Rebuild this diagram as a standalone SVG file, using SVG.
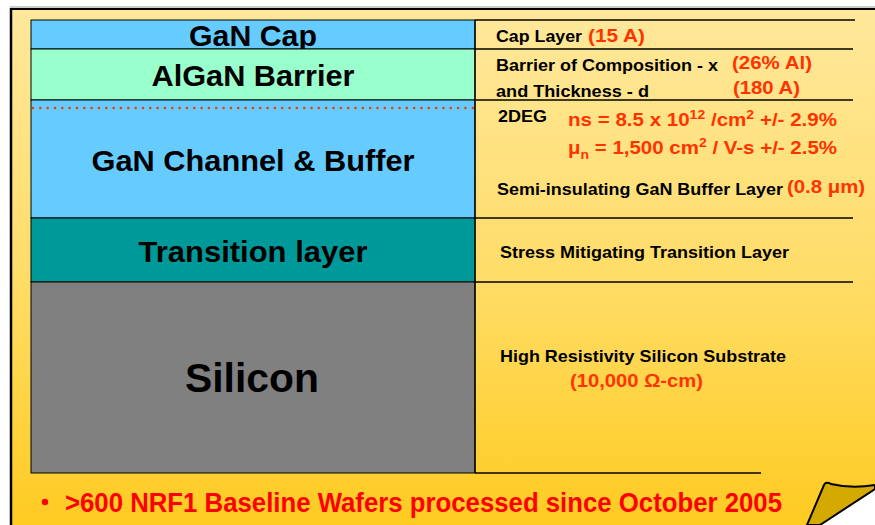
<svg xmlns="http://www.w3.org/2000/svg" width="875" height="525" viewBox="0 0 875 525">
<defs>
<linearGradient id="bg" x1="0" y1="0" x2="0" y2="1">
<stop offset="0" stop-color="#FFE89C"/>
<stop offset="0.5" stop-color="#FFDD6A"/>
<stop offset="1" stop-color="#FFCB20"/>
</linearGradient>
<style>
text{font-family:"Liberation Sans",Arial,sans-serif;font-weight:bold;}
.big{font-size:30px;fill:#000;text-anchor:middle;}
.lbl{font-size:17px;fill:#000;}
.red{font-size:19px;fill:#FF3300;}
.layer{stroke:#000;stroke-width:1;}
.rule{stroke:#000;stroke-width:1.3;fill:none;}
</style>
</defs>
<rect x="0" y="0" width="875" height="525" fill="#FFFFFF"/>
<rect x="11" y="9" width="870" height="520" fill="url(#bg)"/>
<line x1="10" y1="7" x2="875" y2="7" stroke="#999" stroke-width="1"/>
<line x1="11" y1="9" x2="875" y2="9" stroke="#000" stroke-width="2.2"/>
<line x1="11" y1="8" x2="11" y2="525" stroke="#000" stroke-width="2.5"/>

<g id="layer-gan-cap">
<rect class="layer" x="31" y="20" width="444" height="29" fill="#66CCFF"/>
<text class="big" x="253" y="46" textLength="128" lengthAdjust="spacingAndGlyphs">GaN Cap</text>
</g>
<g id="layer-algan">
<rect class="layer" x="31" y="49" width="444" height="51" fill="#99FFCC"/>
<text class="big" x="253" y="86" textLength="203" lengthAdjust="spacingAndGlyphs">AlGaN Barrier</text>
</g>
<g id="layer-gan-channel">
<rect class="layer" x="31" y="100" width="444" height="118" fill="#66CCFF"/>
<text class="big" x="253" y="171" textLength="323" lengthAdjust="spacingAndGlyphs">GaN Channel &amp; Buffer</text>
</g>
<g id="layer-transition">
<rect class="layer" x="31" y="218" width="444" height="64" fill="#009999"/>
<text class="big" x="253" y="262" textLength="229" lengthAdjust="spacingAndGlyphs">Transition layer</text>
</g>
<g id="layer-silicon">
<rect class="layer" x="31" y="282" width="444" height="191" fill="#808080"/>
<text class="big" x="252" y="392" style="font-size:40px" textLength="134" lengthAdjust="spacingAndGlyphs">Silicon</text>
</g>

<g id="connectors">
<line x1="33" y1="108" x2="473" y2="108" stroke="#FF3300" stroke-width="2.6" stroke-linecap="round" stroke-dasharray="0 7.33"/>
<line class="rule" x1="475" y1="20" x2="855" y2="20"/>
<line class="rule" x1="475" y1="49" x2="853" y2="49"/>
<line class="rule" x1="476" y1="100" x2="853" y2="100"/>
<line class="rule" x1="475" y1="218" x2="853" y2="218"/>
<line class="rule" x1="475" y1="282" x2="853" y2="282"/>
<line class="rule" x1="475" y1="473" x2="761" y2="473"/>
<line class="rule" x1="475" y1="20" x2="475" y2="473"/>
</g>

<g id="desc-cap">
<text class="lbl" x="496" y="42" textLength="86" lengthAdjust="spacingAndGlyphs">Cap Layer</text>
<text class="red" x="588" y="42" textLength="57" lengthAdjust="spacingAndGlyphs">(15 A)</text>
</g>
<g id="desc-barrier">
<text class="lbl" x="496" y="71" textLength="222" lengthAdjust="spacingAndGlyphs">Barrier of Composition - x</text>
<text class="lbl" x="496" y="97" textLength="153" lengthAdjust="spacingAndGlyphs">and Thickness - d</text>
<text class="red" x="732" y="69" textLength="80" lengthAdjust="spacingAndGlyphs">(26% Al)</text>
<text class="red" x="733" y="94" textLength="67" lengthAdjust="spacingAndGlyphs">(180 A)</text>
</g>
<g id="desc-channel">
<text class="lbl" x="498" y="122" textLength="49" lengthAdjust="spacingAndGlyphs">2DEG</text>
<text class="red" x="568" y="126" textLength="269" lengthAdjust="spacingAndGlyphs">ns = 8.5 x 10<tspan font-size="13" dy="-7">12</tspan><tspan dy="7"> /cm</tspan><tspan font-size="13" dy="-7">2</tspan><tspan dy="7"> +/- 2.9%</tspan></text>
<text class="red" x="568" y="154" textLength="269" lengthAdjust="spacingAndGlyphs">μ<tspan font-size="13" dy="5">n</tspan><tspan dy="-5"> = 1,500 cm</tspan><tspan font-size="13" dy="-7">2</tspan><tspan dy="7"> / V-s +/- 2.5%</tspan></text>
<text class="lbl" x="497" y="195" textLength="286" lengthAdjust="spacingAndGlyphs">Semi-insulating GaN Buffer Layer</text>
<text class="red" x="787" y="193" textLength="78" lengthAdjust="spacingAndGlyphs">(0.8 μm)</text>
</g>
<g id="desc-transition">
<text class="lbl" x="500" y="258" textLength="289" lengthAdjust="spacingAndGlyphs">Stress Mitigating Transition Layer</text>
</g>
<g id="desc-silicon">
<text class="lbl" x="500" y="362" textLength="286" lengthAdjust="spacingAndGlyphs">High Resistivity Silicon Substrate</text>
<text class="red" x="570" y="387" textLength="133" lengthAdjust="spacingAndGlyphs">(10,000 Ω-cm)</text>
</g>

<g id="footnote">
<circle cx="45" cy="502" r="3.2" fill="#FF0000"/>
<text x="65" y="512" style="font-size:27px;fill:#FF0000" textLength="717" lengthAdjust="spacingAndGlyphs">&gt;600 NRF1 Baseline Wafers processed since October 2005</text>
</g>

<g id="page-curl">
<polygon points="820,525 875,489 875,525" fill="#FFFFFF"/>
<path d="M807,525 L824,485 Q826,481 831,484 Q852,489 875,485 L875,489 L820,525 Z" fill="#D4AA00" stroke="#000" stroke-width="2" stroke-linejoin="round"/>
</g>
</svg>
